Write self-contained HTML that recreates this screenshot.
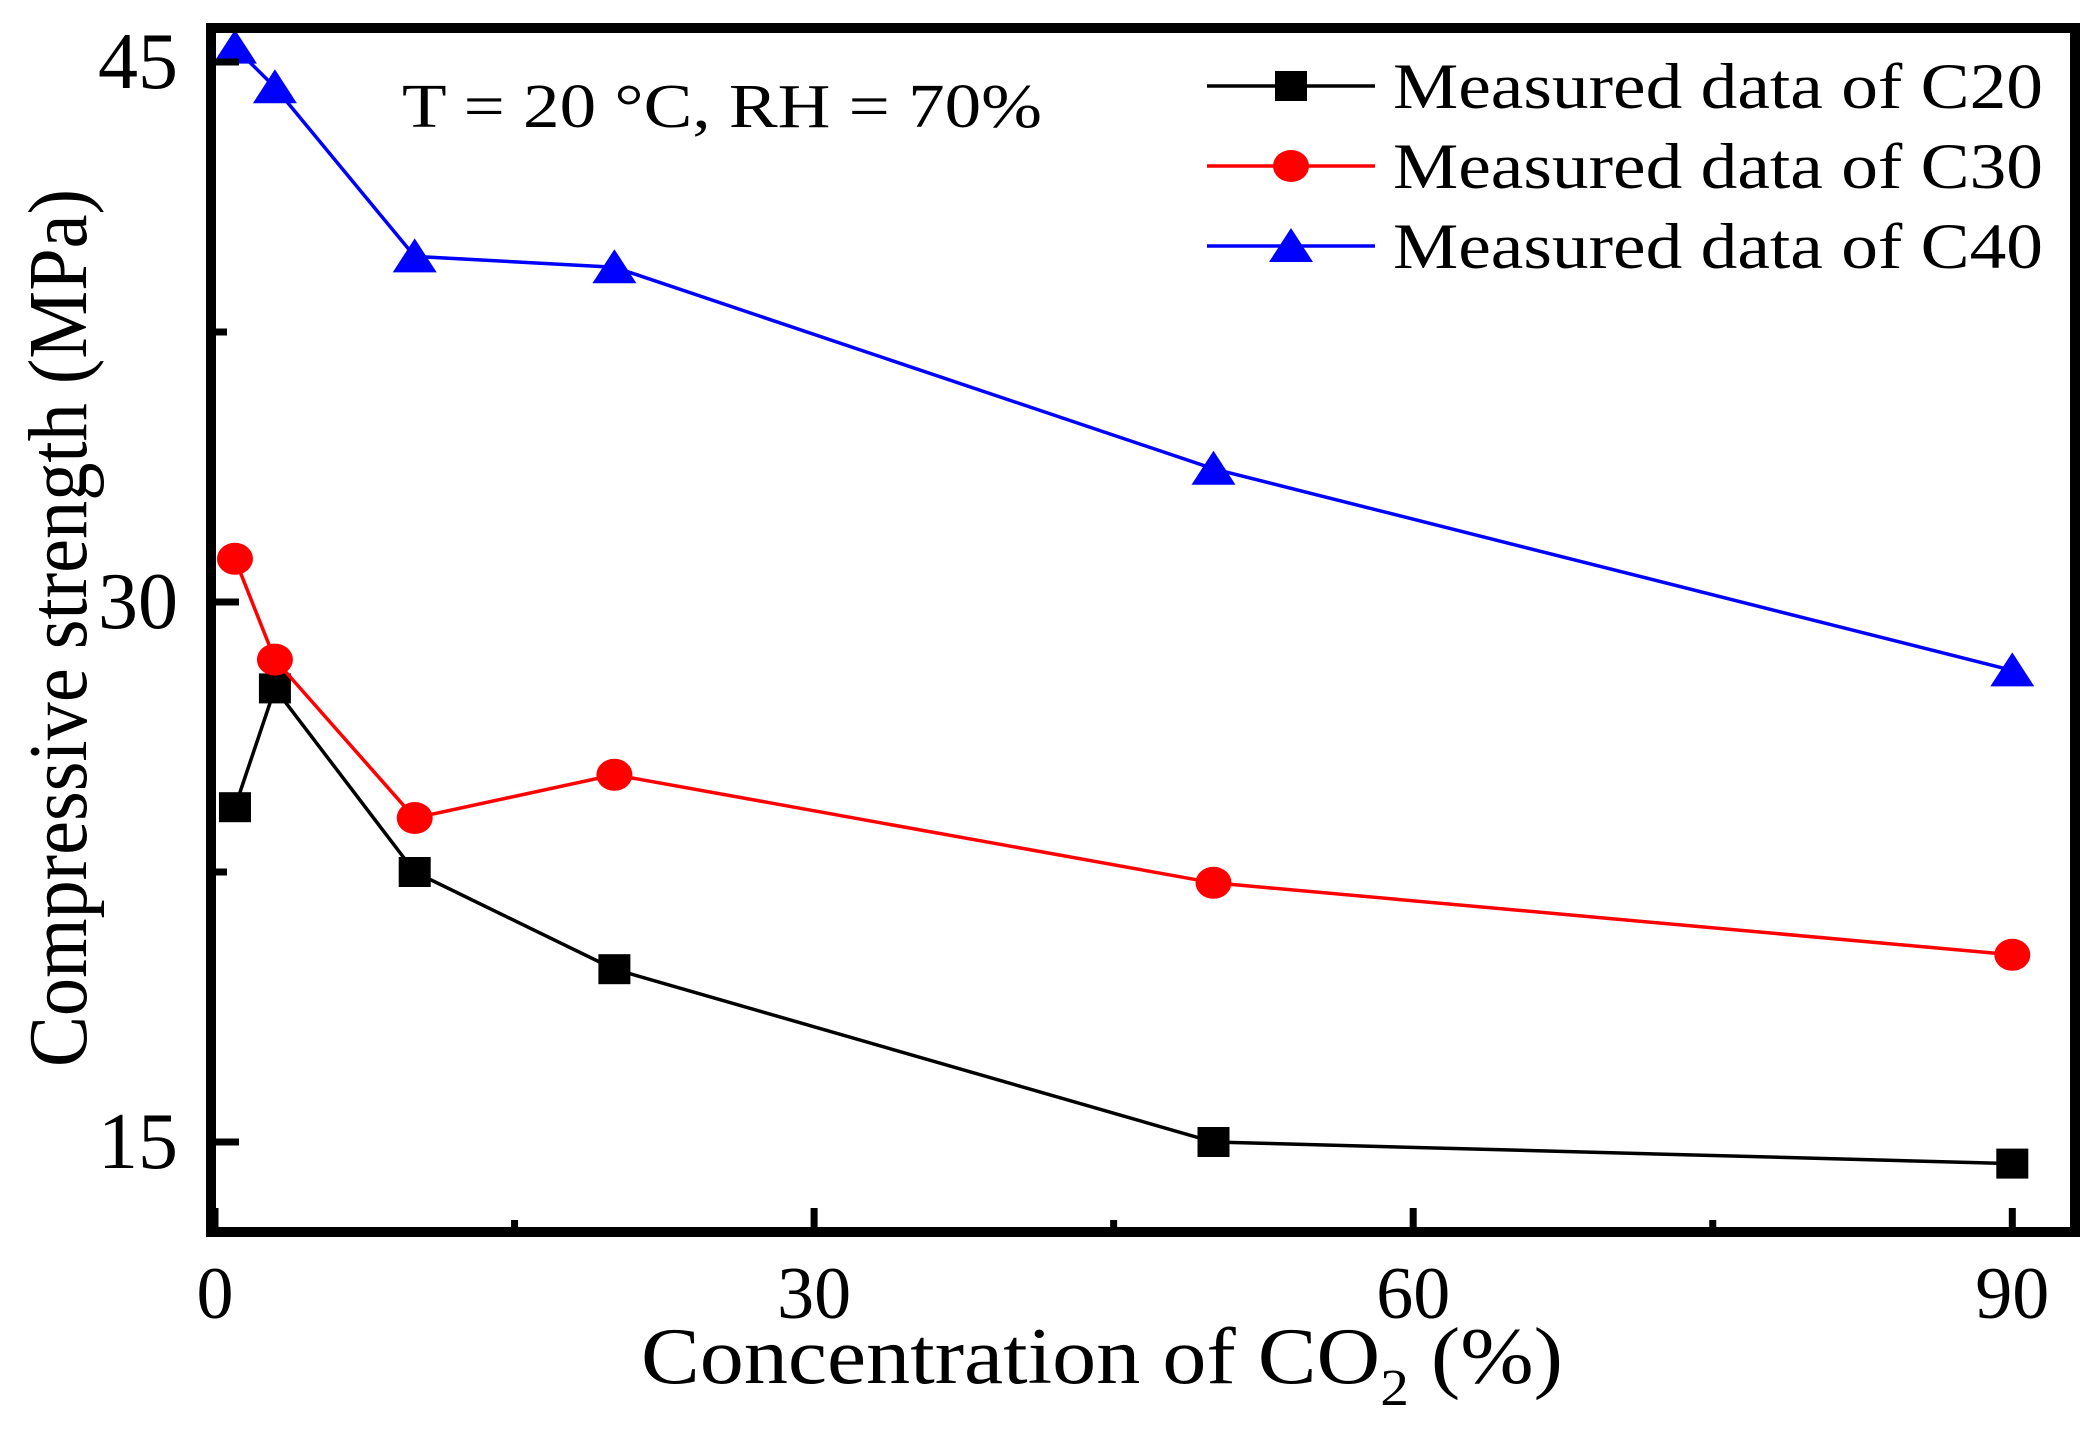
<!DOCTYPE html>
<html><head><meta charset="utf-8"><style>
html,body{margin:0;padding:0;background:#fff;}
svg{display:block;font-family:"Liberation Serif","Times New Roman",serif;}
</style></head><body>
<svg id="chart" width="2095" height="1429" viewBox="0 0 2095 1429" xmlns="http://www.w3.org/2000/svg">
<rect x="0" y="0" width="2095" height="1429" fill="#fff"/>
<g id="series"></g>
<g id="axes"></g>
<text x="402" y="127" font-size="62" textLength="640" lengthAdjust="spacingAndGlyphs">T = 20 °C, RH = 70%</text>
<text x="641" y="1383" font-size="80" textLength="922" lengthAdjust="spacingAndGlyphs">Concentration of CO<tspan dy="22" font-size="52">2</tspan><tspan dy="-22"> (%)</tspan></text>
<text transform="translate(86,628) rotate(-90)" text-anchor="middle" font-size="84" textLength="878" lengthAdjust="spacingAndGlyphs">Compressive strength (MPa)</text>
<g id="legend"></g>
</svg>
<script>
const xValues = [1, 3, 10, 20, 50, 90];
const c20Values = [24.3, 27.6, 22.5, 19.8, 15.0, 14.4];
const c30Values = [31.2, 28.4, 24.0, 25.2, 22.2, 20.2];
const c40Values = [45.4, 44.3, 39.6, 39.3, 33.7, 28.1];
const seriesNames = ["Measured data of C20", "Measured data of C30", "Measured data of C40"];
const xTickLabels = ["0", "30", "60", "90"];
const yTickLabels = ["15", "30", "45"];

const NS = "http://www.w3.org/2000/svg";
function xs(v){ return 215 + v * 19.97; }
function ys(v){ return 602 - (v - 30) * 36; }
function mk(tag, attrs, parent){
  const e = document.createElementNS(NS, tag);
  for (const k in attrs) e.setAttribute(k, attrs[k]);
  parent.appendChild(e);
  return e;
}
const axes = document.getElementById('axes');
const series = document.getElementById('series');
const legend = document.getElementById('legend');

function marker(type, cx, cy, color, parent){
  let e;
  if (type === 'square') {
    e = mk('rect', {x: cx-16, y: cy-15, width: 32, height: 30, fill: color}, parent);
  } else if (type === 'circle') {
    e = mk('ellipse', {cx: cx, cy: cy, rx: 18, ry: 16, fill: color}, parent);
  } else {
    e = mk('polygon', {points: `${cx},${cy-18} ${cx+22},${cy+16} ${cx-22},${cy+16}`, fill: color}, parent);
  }
  return e;
}

const defs = [
  {vals: c20Values, color: '#000', type: 'square', key: 'c20'},
  {vals: c30Values, color: '#ff0000', type: 'circle', key: 'c30'},
  {vals: c40Values, color: '#0000ff', type: 'triangle', key: 'c40'}
];
defs.forEach((d, si) => {
  const g = mk('g', {}, series);
  
  
  const pts = d.vals.map((v, i) => xs(xValues[i]) + ',' + ys(v)).join(' ');
  const line = mk('polyline', {points: pts, fill: 'none', stroke: d.color, 'stroke-width': 3.5}, g);
  
  
  d.vals.forEach((v, i) => {
    const m = marker(d.type, xs(xValues[i]), ys(v), d.color, g);
    
    
  });
  const ly = 86 + si * 80;
  const lg = mk('g', {}, legend);
  
  
  mk('line', {x1: 1207, x2: 1375, y1: ly, y2: ly, stroke: d.color, 'stroke-width': 3.5}, lg);
  marker(d.type, 1291, ly, d.color, lg);
  const t = mk('text', {x: 1393, y: ly + 22, 'font-size': 65, textLength: 650, lengthAdjust: 'spacingAndGlyphs'}, lg);
  t.textContent = seriesNames[si];
});

const frame = mk('rect', {x: 211, y: 28, width: 1864, height: 1204, fill: 'none', stroke: '#000', 'stroke-width': 10}, axes);


[0,15,30,45,60,75,90].forEach(v => {
  const major = v % 30 === 0;
  const tk = mk('line', {x1: xs(v), x2: xs(v), y1: 1232, y2: 1232 - (major ? 24 : 12), stroke: '#000', 'stroke-width': 7}, axes);
  
  
});
xTickLabels.forEach(s => {
  const t = mk('text', {x: xs(+s), y: 1318, 'font-size': 74, 'text-anchor': 'middle'}, axes);
  t.textContent = s;
  
  
});
[15,22.5,30,37.5,45].forEach(v => {
  const major = v % 15 === 0;
  const tk = mk('line', {x1: 211, x2: 211 + (major ? 28 : 16), y1: ys(v), y2: ys(v), stroke: '#000', 'stroke-width': 7}, axes);
  
  
});
yTickLabels.forEach(s => {
  const t = mk('text', {x: 178, y: ys(+s) + 26, 'font-size': 80, 'text-anchor': 'end'}, axes);
  t.textContent = s;
  
  
});
</script>
</body></html>
